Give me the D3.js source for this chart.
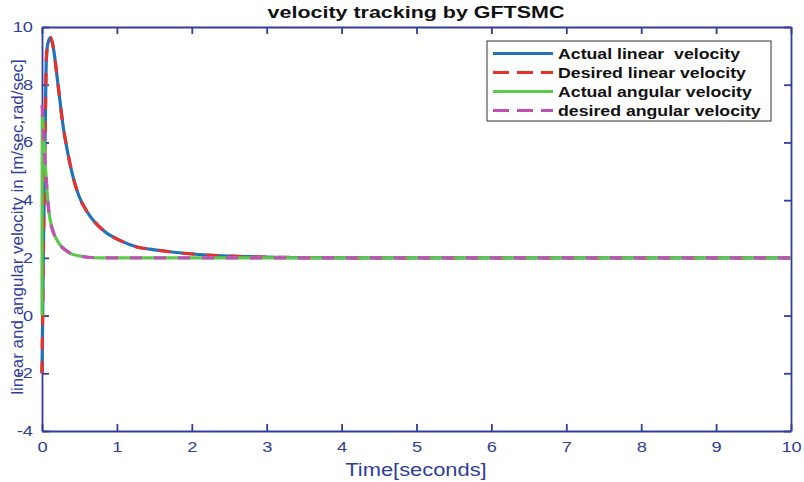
<!DOCTYPE html>
<html>
<head>
<meta charset="utf-8">
<script src="https://cdn.jsdelivr.net/npm/d3@7"></script>
<style>
body{margin:0;background:#fff;}
text{font-family:"Liberation Sans",Arial,sans-serif;}
</style>
</head>
<body>
<div id="chart"></div>
<script>
// data
var timeLinear   =[0,0.02,0.044,0.058,0.08,0.116,0.15,0.214,0.28,0.347,0.436,0.5,0.614,0.837,1.06,1.28,1.44,1.68,1.89,2.33,2.78,3.5,4.5,10];
var actualLinear =[-2.0,2.5,6.7,8.9,9.45,9.63,9.3,8.0,6.6,5.6,4.6,4.1,3.55,2.91,2.58,2.37,2.30,2.22,2.16,2.08,2.04,2.01,2.0,2.0];
var desiredLinear=[-2.0,2.5,6.7,8.9,9.45,9.63,9.3,8.0,6.6,5.6,4.6,4.1,3.55,2.91,2.58,2.37,2.30,2.22,2.16,2.08,2.04,2.01,2.0,2.0];
var timeAngActual=[0,0.004,0.02,0.038,0.06,0.08,0.11,0.15,0.2,0.26,0.33,0.4,0.5,0.61,0.8,10];
var actualAngular=[0,7.0,6.3,5.5,4.6,3.9,3.3,2.9,2.62,2.39,2.24,2.13,2.07,2.02,2.0,2.0];
var timeAngDesired=[0,0.02,0.038,0.06,0.08,0.11,0.15,0.2,0.26,0.33,0.4,0.5,0.61,0.8,10];
var desiredAngular=[7.3,6.3,5.5,4.6,3.9,3.3,2.9,2.62,2.39,2.24,2.13,2.07,2.02,2.0,2.0];
var xTicks=[0,1,2,3,4,5,6,7,8,9,10];
var yTicks=[-4,-2,0,2,4,6,8,10];
var legendLabels=["Actual linear  velocity","Desired linear velocity","Actual angular velocity","desired angular velocity"];

var W=804,H=482;
var axisColor="#2e3d9e";
var svg=d3.select("#chart").append("svg")
	.attr("width",W)
	.attr("height",H);

var x=d3.scaleLinear().domain([0,10]).range([42,791]);
var y=d3.scaleLinear().domain([-4,10]).range([431,27]);

// the original figure is stretched sideways, so widen the text a bit
function stretch(sel,f){
	sel.each(function(){
		var w=this.getComputedTextLength();
		d3.select(this).attr("textLength",w*f).attr("lengthAdjust","spacingAndGlyphs");
	});
}

// axes (box with inward ticks)
function styleAxis(g,showLabels){
	g.selectAll("path").attr("stroke",axisColor).attr("stroke-width",1.8);
	g.selectAll("line").attr("stroke",axisColor).attr("stroke-width",1.8);
	g.selectAll("text").attr("fill",axisColor).attr("font-size","14px")
		.attr("font-family","Liberation Sans,Arial,sans-serif");
	if(!showLabels) g.selectAll("text").remove();
	else stretch(g.selectAll("text"),1.3);
}
var gb=svg.append("g").attr("transform","translate(0,"+y(-4)+")")
	.call(d3.axisBottom(x).tickValues(xTicks).tickFormat(String).tickSizeInner(-7).tickSizeOuter(0).tickPadding(11));
styleAxis(gb,true);
var gt=svg.append("g").attr("transform","translate(0,"+y(10)+")")
	.call(d3.axisTop(x).tickValues(xTicks).tickSizeInner(-7).tickSizeOuter(0));
styleAxis(gt,false);
var gl=svg.append("g").attr("transform","translate("+x(0)+",0)")
	.call(d3.axisLeft(y).tickValues(yTicks).tickFormat(String).tickSizeInner(-7).tickSizeOuter(0).tickPadding(9));
styleAxis(gl,true);
var gr=svg.append("g").attr("transform","translate("+x(10)+",0)")
	.call(d3.axisRight(y).tickValues(yTicks).tickSizeInner(-7).tickSizeOuter(0));
styleAxis(gr,false);

// curves
var series=[
	{t:timeLinear,v:actualLinear,color:"#2272b8",dash:null},
	{t:timeLinear,v:desiredLinear,color:"#e8312a",dash:"12,12"},
	{t:timeAngActual,v:actualAngular,color:"#5cc94c",dash:null},
	{t:timeAngDesired,v:desiredAngular,color:"#c24fb8",dash:"12,12"}
];
var line=d3.line()
	.x(function(d){return x(d[0]);})
	.y(function(d){return y(d[1]);})
	.curve(d3.curveMonotoneX);
series.forEach(function(s){
	var pts=s.t.map(function(t,i){return [t,s.v[i]];});
	svg.append("path")
		.attr("d",line(pts))
		.attr("fill","none")
		.attr("stroke",s.color)
		.attr("stroke-width",3.2)
		.attr("stroke-dasharray",s.dash);
});

// title and axis labels
var title=svg.append("text")
	.attr("x",416).attr("y",18)
	.attr("text-anchor","middle")
	.attr("font-size","16.5px").attr("font-weight","bold")
	.attr("fill","#111")
	.text("velocity tracking by GFTSMC");
stretch(title,1.3);
var xlab=svg.append("text")
	.attr("x",416).attr("y",476)
	.attr("text-anchor","middle")
	.attr("font-size","17.5px")
	.attr("fill",axisColor)
	.text("Time[seconds]");
stretch(xlab,1.25);
svg.append("text")
	.attr("transform","translate(23,227) rotate(-90)")
	.attr("text-anchor","middle")
	.attr("font-size","17px")
	.attr("fill",axisColor)
	.text("linear and angular velocity in [m/sec,rad/sec]");

// legend
var legend=svg.append("g");
legend.append("rect")
	.attr("x",487).attr("y",41)
	.attr("width",284).attr("height",80)
	.attr("fill","#fff")
	.attr("stroke","#333")
	.attr("stroke-width",1);
legendLabels.forEach(function(lab,i){
	var ly=53.5+i*19;
	legend.append("line")
		.attr("x1",493).attr("x2",553)
		.attr("y1",ly).attr("y2",ly)
		.attr("stroke",series[i].color)
		.attr("stroke-width",3.2)
		.attr("stroke-dasharray",series[i].dash?"16,8":null);
	var t=legend.append("text")
		.attr("x",558).attr("y",ly+5.5)
		.attr("font-size","15px").attr("font-weight","bold")
		.attr("fill","#111")
		.style("white-space","pre")
		.text(lab);
	stretch(t,1.18);
});
</script>
</body>
</html>
